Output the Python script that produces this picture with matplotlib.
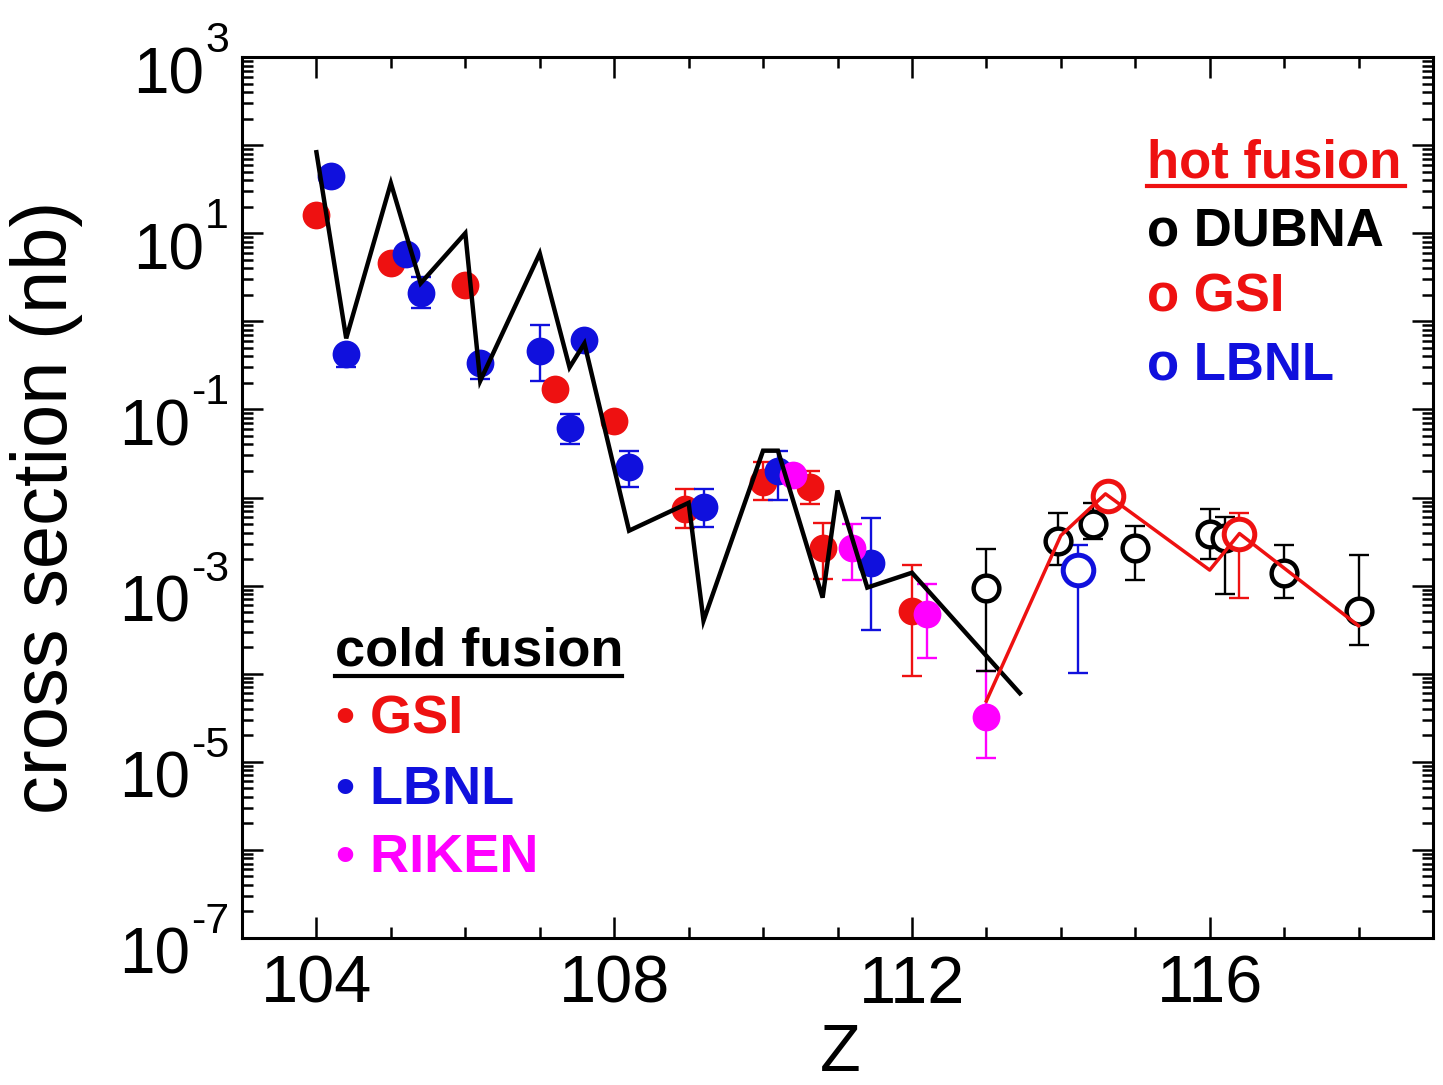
import numpy as np
import matplotlib
matplotlib.use("Agg")
import matplotlib.pyplot as plt
from matplotlib.ticker import LogLocator, MultipleLocator, NullFormatter, FixedLocator
from matplotlib.lines import Line2D

plt.rcParams['font.family'] = ['Liberation Sans', 'DejaVu Sans']

RED = '#ee1111'
BLUE = '#1010dd'
MAGENTA = '#ff00ff'
BLACK = '#000000'

# ---- cold fusion measurements (nb) with lower / upper bounds ----
gsi_cold_z = [104.0, 105.0, 106.0, 107.2, 108.0, 108.95, 110.0, 110.63, 110.8, 112.0]
gsi_cold_sigma = [16, 4.6, 2.6, 0.17, 0.073, 0.0075, 0.0148, 0.013, 0.0027, 5.2e-4]
gsi_cold_lo = [16, 4.6, 2.6, 0.17, 0.073, 0.0045, 0.0093, 0.0085, 0.0012, 9.5e-5]
gsi_cold_hi = [16, 4.6, 2.6, 0.17, 0.073, 0.0126, 0.025, 0.020, 0.0052, 0.0017]

lbnl_cold_z = [104.2, 104.4, 105.2, 105.4, 106.2, 107.0, 107.4, 107.6, 108.2, 109.2, 110.2, 111.45]
lbnl_cold_sigma = [45, 0.43, 5.8, 2.1, 0.34, 0.46, 0.061, 0.61, 0.022, 0.0078, 0.020, 0.0018]
lbnl_cold_lo = [45, 0.30, 5.8, 1.4, 0.22, 0.21, 0.041, 0.61, 0.013, 0.0046, 0.0093, 3.1e-4]
lbnl_cold_hi = [45, 0.43, 5.8, 3.2, 0.34, 0.90, 0.088, 0.61, 0.034, 0.0126, 0.034, 0.0059]

riken_cold_z = [110.4, 111.2, 112.2, 113.0]
riken_cold_sigma = [0.018, 0.0027, 4.8e-4, 3.2e-5]
riken_cold_lo = [0.018, 0.00115, 1.5e-4, 1.1e-5]
riken_cold_hi = [0.018, 0.005, 0.00105, 1.07e-4]

# ---- hot fusion measurements (nb) ----
dubna_hot_z = [113.0, 113.96, 114.43, 115.0, 116.0, 116.2, 117.0, 118.0]
dubna_hot_sigma = [9.3e-4, 0.0032, 0.005, 0.0027, 0.0039, 0.0035, 0.0014, 5.2e-4]
dubna_hot_lo = [1.07e-4, 0.0017, 0.0034, 0.00115, 0.002, 8.1e-4, 7.2e-4, 2.1e-4]
dubna_hot_hi = [0.0026, 0.0067, 0.0087, 0.0048, 0.0075, 0.006, 0.0029, 0.0022]

gsi_hot_z = [114.63, 116.4]
gsi_hot_sigma = [0.0105, 0.0039]
gsi_hot_lo = [0.0105, 7.2e-4]
gsi_hot_hi = [0.0105, 0.0066]

lbnl_hot_z = [114.23]
lbnl_hot_sigma = [0.0015]
lbnl_hot_lo = [1.03e-4]
lbnl_hot_hi = [0.0029]

# ---- model curves ----
cold_model_z = [104.0, 104.4, 105.0, 105.4, 106.0, 106.2, 107.0, 107.4, 107.6, 108.2,
                109.0, 109.2, 110.0, 110.2, 110.8, 111.0, 111.4, 112.0, 113.45]
cold_model_sigma = [83, 0.64, 37, 2.7, 10, 0.21, 5.9, 0.30, 0.56, 0.0042,
                    0.0087, 4.0e-4, 0.034, 0.034, 7.3e-4, 0.012, 9.5e-4, 0.0014, 6.0e-5]

hot_model_z = [113.0, 114.0, 114.6, 116.0, 116.4, 118.0]
hot_model_sigma = [4.9e-5, 0.0037, 0.011, 0.0015, 0.0039, 3.5e-4]

x_ticks = [104, 108, 112, 116]
x_tick_labels = ['104', '108', '112', '116']
y_label_exponents = [3, 1, -1, -3, -5, -7]

W, H = 1443, 1085


def fx(px):
    return px / W


def fy(py):
    return 1 - py / H


fig = plt.figure(figsize=(W / 100, H / 100), dpi=100)
ax = fig.add_axes([fx(242), fy(938), fx(1433) - fx(242), fy(57) - fy(938)])
ax.set_yscale('log')
ax.set_xlim(103, 119)
ax.set_ylim(1e-7, 1e3)


def draw_series(z, s, lo, hi, color, ms, filled, mew=0.0):
    z = np.asarray(z, float)
    s = np.asarray(s, float)
    lo = np.asarray(lo, float)
    hi = np.asarray(hi, float)
    has_err = (hi > s) | (lo < s)
    if has_err.any():
        ax.errorbar(z[has_err], s[has_err],
                    yerr=[s[has_err] - lo[has_err], hi[has_err] - s[has_err]],
                    fmt='none', ecolor=color, elinewidth=1.7,
                    capsize=7, capthick=1.7, zorder=3)
    if filled:
        ax.plot(z, s, 'o', ms=ms, color=color, mec=color, mew=0, zorder=4)
    else:
        ax.plot(z, s, 'o', ms=ms, mfc='white', mec=color, mew=mew, zorder=4)


draw_series(gsi_cold_z, gsi_cold_sigma, gsi_cold_lo, gsi_cold_hi, RED, 20, True)
draw_series(lbnl_cold_z, lbnl_cold_sigma, lbnl_cold_lo, lbnl_cold_hi, BLUE, 20, True)
draw_series(riken_cold_z, riken_cold_sigma, riken_cold_lo, riken_cold_hi, MAGENTA, 20, True)

draw_series(dubna_hot_z, dubna_hot_sigma, dubna_hot_lo, dubna_hot_hi, BLACK, 18.5, False, mew=3.2)
draw_series(gsi_hot_z, gsi_hot_sigma, gsi_hot_lo, gsi_hot_hi, RED, 22, False, mew=3.6)
draw_series(lbnl_hot_z, lbnl_hot_sigma, lbnl_hot_lo, lbnl_hot_hi, BLUE, 22, False, mew=3.6)

ax.plot(cold_model_z, cold_model_sigma, '-', color=BLACK, lw=3.2, zorder=6,
        solid_joinstyle='miter')
ax.plot(hot_model_z, hot_model_sigma, '-', color=RED, lw=2.5, zorder=6)

# ---- axes styling ----
for sp in ax.spines.values():
    sp.set_linewidth(2.2)

ax.xaxis.set_major_locator(FixedLocator(x_ticks))
ax.xaxis.set_minor_locator(MultipleLocator(1))
ax.set_xticks(x_ticks)
ax.set_xticklabels(x_tick_labels)
ax.yaxis.set_major_locator(LogLocator(base=10, numticks=30))
ax.yaxis.set_minor_locator(LogLocator(base=10, subs=np.arange(2, 10), numticks=200))
ax.yaxis.set_major_formatter(NullFormatter())
ax.yaxis.set_minor_formatter(NullFormatter())

ax.tick_params(which='both', direction='in', top=True, right=True, width=1.8)
ax.tick_params(which='major', length=15)
ax.tick_params(which='minor', length=8)
ax.tick_params(axis='x', which='major', labelsize=48, pad=12)

# y tick labels as "10" with a raised exponent
for e in y_label_exponents:
    exp_txt = ax.annotate(f'{e}', xy=(0, 10.0 ** e), xycoords=('axes fraction', 'data'),
                          xytext=(229 - 242, 5), textcoords='offset pixels',
                          ha='right', va='baseline', fontsize=31)
    ax.annotate('10', xy=(0, 10.0 ** e), xycoords=(exp_txt, 'data'),
                xytext=(-1, -36), textcoords='offset pixels',
                ha='right', va='baseline', fontsize=46)

fig.text(fx(47), fy(507), 'cross section (nb)', rotation=90, ha='center', va='center',
         fontsize=56)
fig.text(fx(840), fy(1054), 'Z', ha='center', va='center', fontsize=48)

# ---- legend blocks ----
fig.text(fx(335), fy(665), 'cold fusion', ha='left', va='baseline', fontsize=39,
         fontweight='bold', color=BLACK)
fig.add_artist(Line2D([fx(335), fx(622)], [fy(676), fy(676)], color=BLACK, lw=3))
for label, color, base in [('GSI', RED, 734), ('LBNL', BLUE, 804), ('RIKEN', MAGENTA, 872)]:
    fig.text(fx(336), fy(base), '\u2022 ' + label, ha='left', va='baseline', fontsize=39,
             fontweight='bold', color=color)

fig.text(fx(1147), fy(177), 'hot fusion', ha='left', va='baseline', fontsize=38,
         fontweight='bold', color=RED)
fig.add_artist(Line2D([fx(1147), fx(1405)], [fy(186), fy(186)], color=RED, lw=3))
for label, color, base in [('DUBNA', BLACK, 246), ('GSI', RED, 312), ('LBNL', BLUE, 380)]:
    fig.text(fx(1147), fy(base), 'o ' + label, ha='left', va='baseline', fontsize=38,
             fontweight='bold', color=color)

fig.savefig('out.png', dpi=100)
